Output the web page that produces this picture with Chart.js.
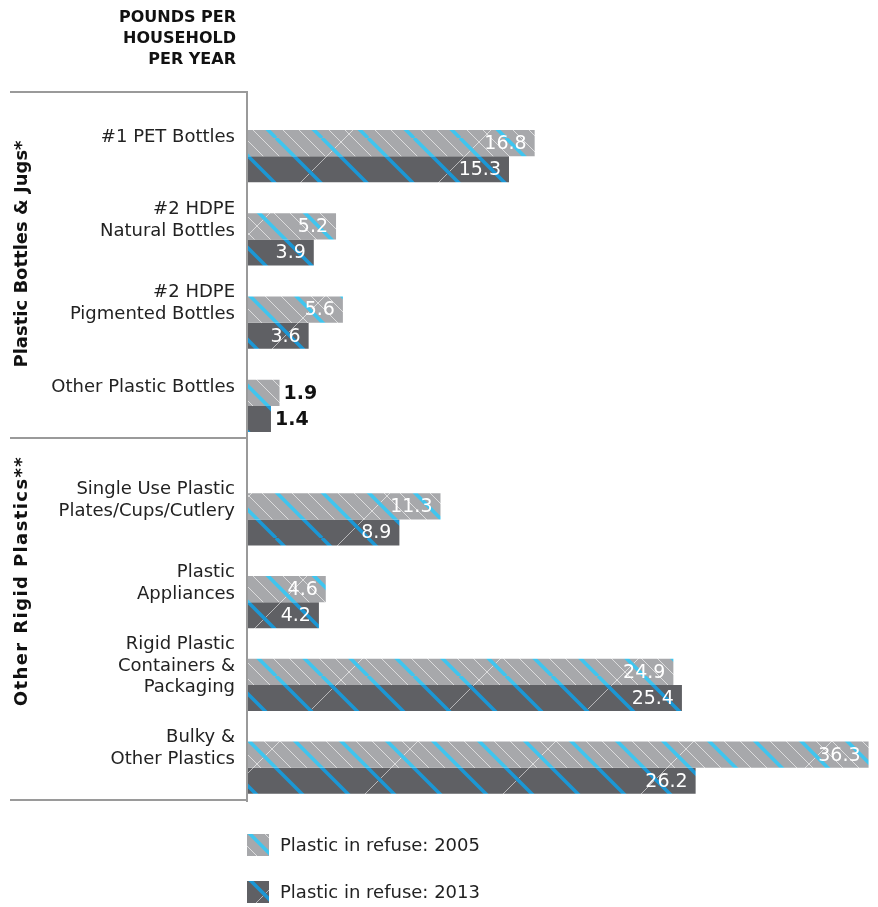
<!DOCTYPE html>
<html>
<head>
<meta charset="utf-8">
<script src="https://cdn.jsdelivr.net/npm/chart.js@4.4.1/dist/chart.umd.min.js"></script>
<style>
  html, body { margin: 0; padding: 0; background: #fff; }
  body { width: 878px; height: 907px; position: relative; overflow: hidden; font-family: "DejaVu Sans", sans-serif; }
  .box { position: absolute; left: 0; width: 878px; }
  #box1 { top: 0; height: 520px; }
  #box2 { top: 400px; height: 507px; }
  .hline { position: absolute; left: 10px; width: 238px; height: 0; border-top: 2px solid #9a9a9a; z-index: 2; }
  .vline { position: absolute; left: 246px; top: 91px; width: 0; height: 711px; border-left: 2px solid #9a9a9a; z-index: 2; }
  #head { position: absolute; left: 0; top: 6px; width: 236px; text-align: right; font-weight: bold; font-size: 16px; line-height: 21px; color: #111; z-index: 2; }
  .group { position: absolute; left: 20px; font-weight: bold; font-size: 18px; color: #111; white-space: nowrap; transform: translate(-50%, -50%) rotate(-90deg); z-index: 2; }
</style>
</head>
<body>
<div id="head">POUNDS PER<br>HOUSEHOLD<br>PER YEAR</div>
<div class="hline" style="top:91px"></div>
<div class="hline" style="top:437px"></div>
<div class="hline" style="top:799px"></div>
<div class="vline"></div>
<div class="group" id="g1" style="top:254px"></div>
<div class="group" id="g2" style="top:581px; letter-spacing:1.4px"></div>
<div class="box" id="box1"><canvas id="chart1"></canvas></div>
<div class="box" id="box2"><canvas id="chart2"></canvas></div>
<script>
// 데이터
const groupNames = ["Plastic Bottles & Jugs*", "Other Rigid Plastics**"];
const seriesNames = ["Plastic in refuse: 2005", "Plastic in refuse: 2013"];

const bottleLabels = [["#1 PET Bottles"], ["#2 HDPE", "Natural Bottles"], ["#2 HDPE", "Pigmented Bottles"], ["Other Plastic Bottles"]];
const bottles2005 = [16.8, 5.2, 5.6, 1.9];
const bottles2013 = [15.3, 3.9, 3.6, 1.4];

const rigidLabels = [["Single Use Plastic", "Plates/Cups/Cutlery"], ["Plastic", "Appliances"], ["Rigid Plastic", "Containers &", "Packaging"], ["Bulky &", "Other Plastics"]];
const rigid2005 = [11.3, 4.6, 24.9, 36.3];
const rigid2013 = [8.9, 4.2, 25.4, 26.2];

document.getElementById("g1").textContent = groupNames[0];
document.getElementById("g2").textContent = groupNames[1];

// 빗금 패턴 만들기
function makePattern(base, blue, thinBack, fwdAlpha) {
    const S = 138;
    const c = document.createElement("canvas");
    c.width = S; c.height = S;
    const g = c.getContext("2d");
    g.fillStyle = base;
    g.fillRect(0, 0, S, S);
    function line(off, dir, color, w) {
        g.strokeStyle = color;
        g.lineWidth = w;
        for (const k of [-S, 0, S]) {
            const x = off + k;
            g.beginPath();
            if (dir > 0) { g.moveTo(x, 0); g.lineTo(x + S, S); }
            else { g.moveTo(x + S, 0); g.lineTo(x, S); }
            g.stroke();
        }
    }
    if (thinBack) {
        [15, 31, 61, 77, 107, 123].forEach(o => line(o, 1, "rgba(255,255,255,0.6)", 1));
    }
    line(69, -1, "rgba(255,255,255," + fwdAlpha + ")", 1);
    [0, 46, 92].forEach(o => line(o, 1, blue, 3.5));
    return g.createPattern(c, "repeat");
}

const fill2005 = makePattern("#a7a8ab", "#3fc5ef", true, 0.6);
const fill2013 = makePattern("#5f6064", "#1b97d5", false, 0.55);

// 막대 끝 값 표시
const valueLabels = {
    id: "valueLabels",
    afterDatasetsDraw(chart) {
        const ctx = chart.ctx;
        ctx.save();
        ctx.textBaseline = "middle";
        chart.data.datasets.forEach((ds, i) => {
            chart.getDatasetMeta(i).data.forEach((bar, j) => {
                const txt = ds.data[j].toFixed(1);
                ctx.font = '19px "DejaVu Sans"';
                const w = ctx.measureText(txt).width;
                if (bar.x - bar.base > w + 14) {
                    ctx.fillStyle = "#fff";
                    ctx.textAlign = "right";
                    ctx.fillText(txt, bar.x - 8, bar.y + 1);
                } else {
                    ctx.font = 'bold 19px "DejaVu Sans"';
                    ctx.fillStyle = "#111";
                    ctx.textAlign = "left";
                    ctx.fillText(txt, bar.x + 4, bar.y + 1);
                }
            });
        });
        ctx.restore();
    }
};

// 범례 (페이지 기준 y 834, 881)
const legendBoxes = {
    id: "legendBoxes",
    afterDraw(chart) {
        const ctx = chart.ctx;
        const ys = [834 - 400, 881 - 400];
        ctx.save();
        chart.data.datasets.forEach((ds, i) => {
            ctx.fillStyle = ds.backgroundColor;
            ctx.fillRect(247, ys[i], 22, 22);
            ctx.fillStyle = "#222";
            ctx.font = '18px "DejaVu Sans"';
            ctx.textBaseline = "middle";
            ctx.textAlign = "left";
            ctx.fillText(ds.label, 280, ys[i] + 12);
        });
        ctx.restore();
    }
};

function makeChart(id, labels, d2005, d2013, padTop, padBottom, extra) {
    const ctx = document.getElementById(id).getContext("2d");
    return new Chart(ctx, {
        type: "bar",
        data: {
            labels: labels,
            datasets: [
                { label: seriesNames[0], data: d2005, backgroundColor: fill2005, borderWidth: 0 },
                { label: seriesNames[1], data: d2013, backgroundColor: fill2013, borderWidth: 0 }
            ]
        },
        options: {
            indexAxis: "y",
            responsive: true,
            maintainAspectRatio: false,
            animation: false,
            categoryPercentage: 0.63,
            barPercentage: 1.0,
            layout: { padding: { top: padTop, bottom: padBottom, left: 0, right: 6 } },
            plugins: { legend: { display: false }, tooltip: { enabled: false } },
            scales: {
                x: { display: false, min: 0, max: 36.5 },
                y: {
                    grid: { display: false, drawTicks: false },
                    border: { display: false },
                    ticks: {
                        color: "#222",
                        padding: 12,
                        labelOffset: -19,
                        font: { family: "DejaVu Sans", size: 18, lineHeight: 1.2 }
                    },
                    afterFit: s => { s.width = 247; }
                }
            }
        },
        plugins: extra
    });
}

window.onload = function () {
    // 차트 영역: 114.5~447.5, 478~809 (페이지 기준)
    makeChart("chart1", bottleLabels, bottles2005, bottles2013, 114.5, 520 - 447.5, [valueLabels]);
    makeChart("chart2", rigidLabels, rigid2005, rigid2013, 478 - 400, 907 - 809, [valueLabels, legendBoxes]);
};
</script>
</body>
</html>
